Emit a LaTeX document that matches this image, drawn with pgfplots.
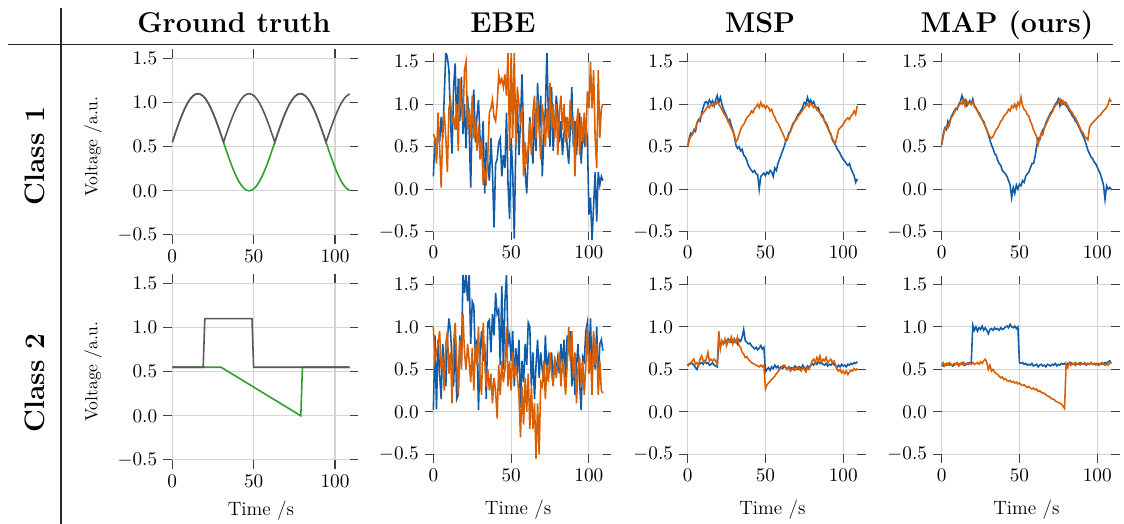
\documentclass[border=0pt]{standalone}
\usepackage{pgfplots}
\usepackage{pgfplotstable}
\pgfplotsset{compat=1.18}
\definecolor{gtgray}{RGB}{88,88,88}
\definecolor{gtgreen}{RGB}{44,160,44}
\definecolor{cblue}{RGB}{16,92,168}
\definecolor{corange}{RGB}{217,95,2}

% ground truth, class 1: t gray green
\pgfplotstableread{
t g y
0 0.550 0.550
1.575 0.636 0.636
3.15 0.720 0.720
4.725 0.800 0.800
6.3 0.873 0.873
7.875 0.939 0.939
9.45 0.995 0.995
11.025 1.040 1.040
12.6 1.073 1.073
14.175 1.093 1.093
15.75 1.100 1.100
17.325 1.093 1.093
18.9 1.073 1.073
20.475 1.040 1.040
22.05 0.995 0.995
23.625 0.939 0.939
25.2 0.873 0.873
26.775 0.800 0.800
28.35 0.720 0.720
29.925 0.636 0.636
31.5 0.550 0.550
33.075 0.636 0.464
34.65 0.720 0.380
36.225 0.800 0.300
37.8 0.873 0.227
39.375 0.939 0.161
40.95 0.995 0.105
42.525 1.040 0.060
44.1 1.073 0.027
45.675 1.093 0.007
47.25 1.100 0.000
48.825 1.093 0.007
50.4 1.073 0.027
51.975 1.040 0.060
53.55 0.995 0.105
55.125 0.939 0.161
56.7 0.873 0.227
58.275 0.800 0.300
59.85 0.720 0.380
61.425 0.636 0.464
63 0.550 0.550
64.575 0.636 0.636
66.15 0.720 0.720
67.725 0.800 0.800
69.3 0.873 0.873
70.875 0.939 0.939
72.45 0.995 0.995
74.025 1.040 1.040
75.6 1.073 1.073
77.175 1.093 1.093
78.75 1.100 1.100
80.325 1.093 1.093
81.9 1.073 1.073
83.475 1.040 1.040
85.05 0.995 0.995
86.625 0.939 0.939
88.2 0.873 0.873
89.775 0.800 0.800
91.35 0.720 0.720
92.925 0.636 0.636
94.5 0.550 0.550
96.075 0.636 0.464
97.65 0.720 0.380
99.225 0.800 0.300
100.8 0.873 0.227
102.375 0.939 0.161
103.95 0.995 0.105
105.525 1.040 0.060
107.1 1.073 0.027
108.675 1.093 0.007
109 1.096 0.004
}\gtone

% EBE, class 1: t blue orange
\pgfplotstableread{
t b o
0 0.15 0.65
1 0.60 0.60
2 0.35 0.30
3 0.75 0.90
4 0.55 0.50
5 0.85 0.02
6 0.60 0.70
7 1.10 0.90
8 1.62 0.60
9 1.55 0.20
10 1.40 0.95
11 0.80 1.05
12 0.42 0.80
13 1.20 0.85
14 1.48 0.70
15 0.70 1.00
16 1.30 0.45
17 0.80 1.30
18 1.32 0.95
19 0.65 0.80
20 1.00 1.40
21 0.48 1.50
22 1.10 0.70
23 0.70 0.95
24 0.02 0.60
25 0.90 1.10
26 1.17 0.60
27 0.55 0.85
28 0.85 0.45
29 1.05 0.75
30 0.60 0.35
31 0.40 0.60
32 0.80 0.05
33 -0.05 0.20
34 0.55 0.10
35 0.30 0.40
36 0.10 0.90
37 0.60 0.95
38 0.20 1.05
39 -0.45 0.85
40 0.30 0.80
41 0.35 1.00
42 0.55 1.35
43 0.60 1.25
44 0.15 1.30
45 0.40 1.20
46 0.25 1.35
47 0.90 1.10
48 0.05 1.62
49 -0.35 0.45
50 0.60 1.62
51 0.20 0.60
52 -0.58 1.62
53 0.55 0.50
54 1.00 1.20
55 0.40 1.00
56 0.80 0.80
57 1.35 0.90
58 0.60 0.15
59 0.20 0.55
60 -0.05 0.30
61 0.40 0.50
62 0.85 0.80
63 0.55 0.40
64 0.30 0.90
65 0.90 1.10
66 0.45 0.60
67 1.25 1.05
68 0.70 0.70
69 1.10 0.35
70 0.15 1.00
71 0.60 0.80
72 0.95 0.50
73 1.62 0.95
74 0.80 0.60
75 0.50 1.25
76 1.20 0.70
77 0.45 1.00
78 0.75 0.60
79 1.10 1.00
80 0.90 0.40
81 0.55 0.90
82 0.80 1.10
83 0.40 0.70
84 0.65 1.00
85 0.85 0.55
86 0.50 0.85
87 0.30 0.60
88 0.70 1.05
89 1.20 0.70
90 0.50 0.85
91 0.80 0.15
92 0.40 0.75
93 0.75 0.95
94 0.90 0.40
95 0.30 0.85
96 0.65 0.55
97 0.55 0.90
98 0.75 0.50
99 0.60 1.15
100 -0.30 0.95
101 -0.10 1.50
102 -0.60 0.95
103 -0.20 1.40
104 0.20 0.60
105 -0.38 0.25
106 0.20 1.40
107 0.05 0.60
108 0.15 0.95
109 0.10 1.00
}\ebeone

% MSP, class 1
\pgfplotstableread{
t b o
0 0.50 0.50
1 0.60 0.58
2 0.66 0.62
3 0.65 0.64
4 0.70 0.68
5 0.68 0.72
6 0.78 0.78
7 0.82 0.80
8 0.80 0.84
9 0.90 0.87
10 0.96 0.90
11 1.02 0.92
12 1.03 0.95
13 1.00 0.98
14 1.05 0.96
15 1.01 1.00
16 1.04 0.98
17 0.98 1.01
18 1.05 1.00
19 1.10 1.03
20 1.02 1.00
21 1.08 0.97
22 1.00 0.94
23 0.94 0.90
24 0.90 0.87
25 0.86 0.84
26 0.80 0.80
27 0.82 0.76
28 0.75 0.72
29 0.70 0.68
30 0.62 0.64
31 0.52 0.56
32 0.48 0.58
33 0.50 0.64
34 0.45 0.70
35 0.47 0.74
36 0.40 0.76
37 0.38 0.80
38 0.34 0.84
39 0.28 0.86
40 0.25 0.88
41 0.22 0.92
42 0.20 0.90
43 0.22 0.95
44 0.18 0.97
45 0.17 1.00
46 0.00 0.96
47 0.15 1.02
48 0.17 0.97
49 0.19 0.99
50 0.16 0.95
51 0.20 0.98
52 0.18 0.96
53 0.22 0.92
54 0.20 0.94
55 0.15 0.88
56 0.25 0.85
57 0.22 0.80
58 0.30 0.78
59 0.35 0.74
60 0.40 0.70
61 0.45 0.66
62 0.50 0.62
63 0.56 0.56
64 0.60 0.58
65 0.66 0.64
66 0.68 0.68
67 0.74 0.72
68 0.78 0.77
69 0.80 0.80
70 0.84 0.82
71 0.88 0.86
72 0.90 0.88
73 0.93 0.91
74 0.97 0.93
75 1.02 0.96
76 1.00 0.98
77 1.08 1.00
78 1.02 0.97
79 1.05 1.01
80 1.00 0.99
81 1.03 0.96
82 0.98 0.98
83 0.95 0.93
84 0.96 0.92
85 0.90 0.90
86 0.88 0.86
87 0.86 0.84
88 0.80 0.80
89 0.78 0.76
90 0.74 0.72
91 0.68 0.68
92 0.65 0.64
93 0.58 0.60
94 0.55 0.56
95 0.52 0.54
96 0.48 0.62
97 0.45 0.70
98 0.42 0.72
99 0.38 0.74
100 0.35 0.76
101 0.33 0.80
102 0.30 0.82
103 0.28 0.84
104 0.30 0.82
105 0.24 0.86
106 0.20 0.88
107 0.16 0.92
108 0.08 0.88
109 0.12 0.98
}\mspone

% MAP (ours), class 1
\pgfplotstableread{
t b o
0 0.52 0.54
1 0.65 0.62
2 0.72 0.70
3 0.70 0.74
4 0.80 0.72
5 0.76 0.78
6 0.85 0.84
7 0.88 0.86
8 0.92 0.90
9 0.95 0.93
10 0.94 0.96
11 1.00 0.98
12 1.03 1.02
13 1.10 1.00
14 1.02 1.06
15 1.05 0.98
16 0.98 1.04
17 1.00 1.00
18 1.04 1.02
19 1.00 1.00
20 1.06 1.03
21 0.98 0.97
22 0.96 0.95
23 0.92 0.92
24 0.90 0.88
25 0.86 0.85
26 0.82 0.82
27 0.80 0.78
28 0.74 0.74
29 0.70 0.70
30 0.64 0.65
31 0.58 0.62
32 0.52 0.60
33 0.48 0.62
34 0.42 0.66
35 0.40 0.70
36 0.34 0.72
37 0.30 0.76
38 0.28 0.80
39 0.22 0.82
40 0.20 0.86
41 0.18 0.88
42 0.15 0.90
43 0.10 0.94
44 0.05 0.92
45 -0.10 0.98
46 0.02 0.96
47 -0.05 1.00
48 0.05 0.95
49 0.00 1.02
50 0.06 0.98
51 0.04 1.08
52 0.10 0.98
53 0.08 0.94
54 0.15 0.92
55 0.18 0.88
56 0.20 0.86
57 0.25 0.80
58 0.30 0.76
59 0.30 0.70
60 0.38 0.66
61 0.50 0.62
62 0.60 0.52
63 0.58 0.60
64 0.65 0.66
65 0.70 0.64
66 0.72 0.72
67 0.78 0.76
68 0.82 0.80
69 0.86 0.84
70 0.90 0.88
71 0.92 0.90
72 0.96 0.95
73 1.00 0.98
74 1.02 1.00
75 1.06 1.02
76 0.98 1.06
77 1.04 1.00
78 1.00 1.04
79 1.02 1.00
80 0.98 1.02
81 0.96 0.98
82 0.92 0.95
83 0.90 0.92
84 0.86 0.90
85 0.84 0.86
86 0.80 0.84
87 0.78 0.80
88 0.74 0.76
89 0.70 0.72
90 0.66 0.68
91 0.62 0.66
92 0.58 0.62
93 0.52 0.60
94 0.46 0.58
95 0.42 0.72
96 0.38 0.76
97 0.36 0.78
98 0.32 0.80
99 0.30 0.82
100 0.26 0.84
101 0.22 0.86
102 0.18 0.87
103 0.12 0.90
104 0.05 0.92
105 -0.12 0.94
106 0.04 0.96
107 0.00 1.00
108 0.02 1.06
109 0.00 1.03
}\mapone

% ground truth, class 2
\pgfplotstableread{
t v
0 0.55
19 0.55
20 1.10
49 1.10
50 0.55
109 0.55
}\gttwogray
\pgfplotstableread{
t v
0 0.55
30 0.55
79 0.00
80 0.55
109 0.55
}\gttwogreen

% EBE, class 2
\pgfplotstableread{
t b o
0 0.02 1.00
1 0.90 0.60
2 0.03 0.70
3 0.85 0.80
4 0.45 0.95
5 0.15 0.50
6 0.80 0.65
7 0.55 0.25
8 0.30 0.80
9 0.85 0.95
10 1.10 0.45
11 0.95 0.70
12 0.60 0.10
13 0.30 0.80
14 0.90 1.05
15 0.15 0.60
16 0.20 0.20
17 0.90 0.85
18 0.55 0.50
19 1.62 1.15
20 1.40 0.70
21 1.62 0.50
22 1.30 0.80
23 1.62 0.60
24 0.80 0.35
25 1.30 0.75
26 1.25 0.25
27 0.60 0.80
28 0.85 0.55
29 0.02 1.00
30 0.70 0.40
31 0.95 0.20
32 0.60 1.05
33 0.80 0.60
34 0.15 0.30
35 1.05 0.50
36 1.08 0.25
37 0.70 0.45
38 1.15 0.10
39 0.90 0.40
40 1.40 0.25
41 1.15 -0.08
42 1.20 0.55
43 0.55 0.20
44 1.48 0.60
45 0.50 0.35
46 1.30 0.50
47 1.62 1.00
48 0.80 0.30
49 0.90 0.60
50 0.60 0.25
51 0.95 0.70
52 0.30 0.40
53 0.75 0.55
54 0.45 0.40
55 0.85 0.20
56 0.05 -0.30
57 0.60 0.30
58 0.35 -0.15
59 0.80 0.40
60 0.55 0.00
61 1.05 0.45
62 1.00 -0.20
63 0.30 0.30
64 0.70 -0.20
65 0.15 0.10
66 0.55 -0.55
67 0.85 0.10
68 0.40 -0.50
69 0.70 0.35
70 0.50 0.30
71 0.35 0.60
72 0.90 0.15
73 0.45 0.55
74 0.65 0.35
75 0.55 0.70
76 0.70 0.45
77 0.35 0.30
78 0.60 0.65
79 0.50 0.40
80 0.65 0.55
81 0.45 0.70
82 0.80 0.30
83 0.55 0.60
84 0.85 0.45
85 0.40 0.20
86 0.90 0.55
87 0.75 1.00
88 0.95 0.60
89 0.30 0.95
90 0.60 0.40
91 0.20 0.70
92 0.55 0.10
93 0.80 0.50
94 0.35 0.65
95 0.02 0.30
96 0.65 0.60
97 0.60 0.20
98 0.95 0.55
99 1.05 1.00
100 0.55 0.45
101 1.10 0.70
102 0.40 0.20
103 0.90 0.95
104 0.50 0.55
105 1.00 0.80
106 0.30 0.20
107 0.80 0.60
108 0.85 0.25
109 0.72 0.22
}\ebetwo

% MSP, class 2
\pgfplotstableread{
t b o
0 0.54 0.55
1 0.56 0.57
2 0.58 0.56
3 0.57 0.60
4 0.55 0.62
5 0.52 0.56
6 0.50 0.58
7 0.55 0.55
8 0.57 0.62
9 0.58 0.66
10 0.56 0.60
11 0.60 0.58
12 0.57 0.62
13 0.58 0.70
14 0.55 0.60
15 0.56 0.62
16 0.58 0.60
17 0.55 0.62
18 0.54 0.60
19 0.53 0.56
20 0.82 0.95
21 0.80 0.74
22 0.82 0.84
23 0.80 0.80
24 0.84 0.86
25 0.82 0.78
26 0.86 0.84
27 0.84 0.82
28 0.82 0.88
29 0.85 0.80
30 0.82 0.86
31 0.84 0.82
32 0.80 0.88
33 0.85 0.78
34 0.83 0.76
35 0.88 0.70
36 0.97 0.68
37 0.84 0.64
38 0.82 0.65
39 0.80 0.62
40 0.81 0.60
41 0.78 0.58
42 0.76 0.57
43 0.74 0.56
44 0.76 0.55
45 0.73 0.54
46 0.75 0.53
47 0.78 0.55
48 0.74 0.53
49 0.76 0.55
50 0.47 0.27
51 0.50 0.32
52 0.52 0.34
53 0.49 0.36
54 0.53 0.38
55 0.51 0.40
56 0.55 0.42
57 0.52 0.45
58 0.54 0.47
59 0.50 0.50
60 0.53 0.52
61 0.51 0.54
62 0.54 0.55
63 0.52 0.53
64 0.50 0.50
65 0.53 0.52
66 0.51 0.48
67 0.52 0.50
68 0.50 0.52
69 0.54 0.49
70 0.52 0.51
71 0.50 0.53
72 0.53 0.50
73 0.51 0.48
74 0.55 0.52
75 0.52 0.50
76 0.50 0.47
77 0.54 0.52
78 0.52 0.50
79 0.55 0.54
80 0.57 0.60
81 0.55 0.62
82 0.58 0.58
83 0.56 0.64
84 0.60 0.60
85 0.57 0.66
86 0.58 0.58
87 0.56 0.62
88 0.55 0.60
89 0.57 0.64
90 0.54 0.58
91 0.56 0.60
92 0.55 0.62
93 0.57 0.58
94 0.56 0.60
95 0.54 0.56
96 0.52 0.50
97 0.55 0.48
98 0.53 0.50
99 0.56 0.46
100 0.54 0.48
101 0.55 0.45
102 0.53 0.48
103 0.56 0.44
104 0.55 0.47
105 0.57 0.49
106 0.56 0.48
107 0.58 0.51
108 0.57 0.49
109 0.59 0.51
}\msptwo

% MAP (ours), class 2
\pgfplotstableread{
t b o
0 0.55 0.56
1 0.54 0.58
2 0.56 0.54
3 0.55 0.57
4 0.57 0.55
5 0.55 0.58
6 0.56 0.56
7 0.54 0.55
8 0.55 0.57
9 0.57 0.56
10 0.56 0.58
11 0.55 0.54
12 0.57 0.56
13 0.56 0.58
14 0.58 0.55
15 0.55 0.57
16 0.57 0.56
17 0.56 0.58
18 0.58 0.57
19 0.57 0.56
20 1.02 0.58
21 0.96 0.56
22 1.00 0.57
23 0.95 0.58
24 0.99 0.56
25 0.97 0.59
26 1.01 0.57
27 0.96 0.60
28 0.99 0.62
29 0.96 0.58
30 0.92 0.50
31 0.97 0.55
32 0.98 0.48
33 0.96 0.50
34 0.99 0.47
35 0.97 0.45
36 0.98 0.44
37 0.96 0.42
38 0.99 0.40
39 0.97 0.41
40 0.98 0.38
41 1.00 0.39
42 1.01 0.37
43 0.99 0.36
44 1.03 0.37
45 1.00 0.35
46 0.99 0.36
47 1.01 0.34
48 0.98 0.35
49 1.00 0.33
50 0.58 0.34
51 0.57 0.32
52 0.58 0.31
53 0.56 0.32
54 0.57 0.30
55 0.55 0.29
56 0.56 0.30
57 0.55 0.28
58 0.57 0.27
59 0.54 0.28
60 0.55 0.26
61 0.56 0.27
62 0.53 0.24
63 0.55 0.25
64 0.56 0.23
65 0.54 0.22
66 0.55 0.22
67 0.53 0.20
68 0.56 0.19
69 0.55 0.18
70 0.54 0.17
71 0.56 0.15
72 0.55 0.15
73 0.57 0.13
74 0.54 0.12
75 0.56 0.11
76 0.55 0.10
77 0.57 0.09
78 0.56 0.07
79 0.57 0.04
80 0.55 0.56
81 0.57 0.52
82 0.56 0.58
83 0.58 0.55
84 0.56 0.57
85 0.57 0.56
86 0.55 0.58
87 0.57 0.56
88 0.56 0.57
89 0.58 0.55
90 0.57 0.57
91 0.56 0.56
92 0.57 0.58
93 0.55 0.56
94 0.57 0.57
95 0.56 0.56
96 0.58 0.58
97 0.56 0.56
98 0.57 0.57
99 0.56 0.55
100 0.57 0.56
101 0.55 0.57
102 0.57 0.56
103 0.56 0.58
104 0.57 0.56
105 0.58 0.55
106 0.57 0.56
107 0.59 0.55
108 0.60 0.57
109 0.57 0.58
}\maptwo

\pgfplotsset{
  panel/.style={
    scale only axis,
    xmin=-5.45, xmax=114.45, ymin=-0.6, ymax=1.6,
    xtick={0,50,100}, ytick={-0.5,0,0.5,1,1.5},
    yticklabel style={/pgf/number format/.cd, fixed, fixed zerofill, precision=1},
    axis line style={draw=none},
    tick align=inside,
    major tick length=0.17cm,
    tick style={black!75, line width=0.6pt},
    grid=major,
    grid style={black!17, line width=0.6pt},
    tick label style={font=\fontsize{11}{13}\selectfont},
    every axis plot/.append style={line width=0.9pt},
  },
  wide/.style={width=3.902cm, height=3.886cm},
  narrow/.style={width=3.73cm, height=3.74cm},
  vlab/.style={ylabel={Voltage /a.u.},
    ylabel style={at={(axis description cs:-0.361,0.5)}, anchor=center, font=\fontsize{10}{12}\selectfont}},
}

\begin{document}
\begin{tikzpicture}
\useasboundingbox (0,0) rectangle (22.48,10.48);

% headers and separators
\draw[black!85, line width=0.6pt] (0.16,9.59) -- (22.26,9.59);
\draw[black!85, line width=0.6pt] (1.22,10.32) -- (1.22,0);
\foreach \x/\t in {4.68/Ground truth, 10.06/EBE, 15.2/MSP, 20.14/MAP (ours)}
  \node[anchor=base, font=\fontsize{16.3}{19}\selectfont\bfseries] at (\x,9.82) {\t};
\node[rotate=90, font=\fontsize{16}{19}\selectfont\bfseries] at (0.70,7.36) {Class 1};
\node[rotate=90, font=\fontsize{16}{19}\selectfont\bfseries] at (0.70,2.82) {Class 2};

% row 1
\begin{axis}[panel, wide, vlab, at={(3.268cm,5.604cm)}, anchor=south west]
\addplot[gtgreen, no marks] table[x=t, y=y] {\gtone};
\addplot[gtgray, no marks] table[x=t, y=g] {\gtone};
\end{axis}
\begin{axis}[panel, narrow, at={(8.498cm,5.676cm)}, anchor=south west]
\addplot[cblue, no marks] table[x=t, y=b] {\ebeone};
\addplot[corange, no marks] table[x=t, y=o] {\ebeone};
\end{axis}
\begin{axis}[panel, narrow, at={(13.584cm,5.676cm)}, anchor=south west]
\addplot[cblue, no marks] table[x=t, y=b] {\mspone};
\addplot[corange, no marks] table[x=t, y=o] {\mspone};
\end{axis}
\begin{axis}[panel, narrow, at={(18.664cm,5.676cm)}, anchor=south west]
\addplot[cblue, no marks] table[x=t, y=b] {\mapone};
\addplot[corange, no marks] table[x=t, y=o] {\mapone};
\end{axis}

% row 2
\begin{axis}[panel, wide, vlab, at={(3.268cm,1.104cm)}, anchor=south west,
  xlabel={Time /s}, xlabel style={at={(axis description cs:0.5,-0.238)}, anchor=base, font=\fontsize{11}{13}\selectfont}]
\addplot[gtgreen, no marks] table[x=t, y=v] {\gttwogreen};
\addplot[gtgray, no marks] table[x=t, y=v] {\gttwogray};
\end{axis}
\begin{axis}[panel, narrow, at={(8.498cm,1.222cm)}, anchor=south west,
  xlabel={Time /s}, xlabel style={at={(axis description cs:0.5,-0.278)}, anchor=base, font=\fontsize{11}{13}\selectfont}]
\addplot[cblue, no marks] table[x=t, y=b] {\ebetwo};
\addplot[corange, no marks] table[x=t, y=o] {\ebetwo};
\end{axis}
\begin{axis}[panel, narrow, at={(13.584cm,1.222cm)}, anchor=south west,
  xlabel={Time /s}, xlabel style={at={(axis description cs:0.5,-0.278)}, anchor=base, font=\fontsize{11}{13}\selectfont}]
\addplot[cblue, no marks] table[x=t, y=b] {\msptwo};
\addplot[corange, no marks] table[x=t, y=o] {\msptwo};
\end{axis}
\begin{axis}[panel, narrow, at={(18.664cm,1.222cm)}, anchor=south west,
  xlabel={Time /s}, xlabel style={at={(axis description cs:0.5,-0.278)}, anchor=base, font=\fontsize{11}{13}\selectfont}]
\addplot[cblue, no marks] table[x=t, y=b] {\maptwo};
\addplot[corange, no marks] table[x=t, y=o] {\maptwo};
\end{axis}
\end{tikzpicture}
\end{document}
